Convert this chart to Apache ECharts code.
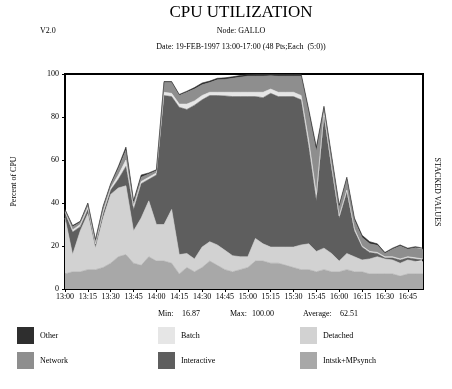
<!DOCTYPE html>
<html>
<head>
<meta charset="utf-8">
<script src="https://cdn.jsdelivr.net/npm/echarts@6/dist/echarts.min.js"></script>
<style>
html,body{margin:0;padding:0;background:#fff;}
#c{width:452px;height:389px;}
</style>
</head>
<body>
<div id="c"></div>
<script>
// ---- data ----
var times = ['13:00','13:05','13:10','13:15','13:20','13:25','13:30','13:35','13:40','13:45','13:50','13:55',
             '14:00','14:05','14:10','14:15','14:20','14:25','14:30','14:35','14:40','14:45','14:50','14:55',
             '15:00','15:05','15:10','15:15','15:20','15:25','15:30','15:35','15:40','15:45','15:50','15:55',
             '16:00','16:05','16:10','16:15','16:20','16:25','16:30','16:35','16:40','16:45','16:50','16:55'];
var intstk = [7,8,8,9,9,10,12,15,16,12,11,15,13,13,12,7,10,8,10,13,11,9,8,9,
              10,13,13,12,12,11,10,9,9,8,9,8,8,9,8,8,7,7,7,7,6,7,7,7];
var detached = [26,8,19,26,10,23,32,32,32,15,22,26,17,17,25,9,6.5,6,9.5,9,9.5,9,7.5,6,
                5,10.5,8,7.5,7.5,8.5,9.5,11.5,12,9.5,10,8.5,5,7.5,7,5.5,7,8,7,6.5,6,6.5,5.8,5.8];
var interactive = [2.5,10.5,2,2,1.5,2,2,4,9,10,16,10,23,60,52.5,68.5,67,71.5,68.5,68,69.5,71.8,74,74.5,
                   74.5,66,68,71.5,70,70,70,67.5,45,23.5,61,39.5,20,28.5,12,6,3,1.5,0.5,1,1.5,1,1.2,0.7];
var batch = [0.5,1,1,1,0.5,1,1,2,3,1.5,1,1,1,1.5,1.5,1.5,2.5,2,2,1.5,1.5,1.7,2,2,
             2,2,2.5,2,2,2,2,2,3,3,2,1,1,1,1,0.5,0.5,0.5,0.5,0.5,0.5,0.5,0.5,0.5];
var network = [0.8,1.5,1,1.5,1.5,2,1.5,3,4.5,1.5,2,1.5,1,4.5,5,4,5.5,5.5,5,4.5,5.8,6,6.5,7,
               7.5,7.5,7.5,6.2,7.5,7.5,7.5,9,13,20,2,4,4,5,4,4,3.5,3.3,1.5,3.5,6,3.5,4.7,4.5];
var other = [0.2,0.5,0.5,0.5,0.5,0.5,0.5,1,1.5,1,1,0.5,0.5,0.5,0.5,0.5,0.5,0.7,0.8,0.7,0.7,0.7,0.7,0.8,
             0.8,1,1,0.8,1,1,1,1,1.5,2,1,1,1,1,1,1,1,0.7,0.5,0.5,0.5,0.5,0.5,0.5];
var yTicks = [0,20,40,60,80,100];
var statLabels = ['Min:', '16.87', 'Max:', '100.00', 'Average:', '62.51'];

// ---- chart ----
var F = 'Liberation Serif, Times New Roman, serif';
var chart = echarts.init(document.getElementById('c'), null, {renderer:'canvas'});

var seriesDefs = [
  {name:'Intstk+MPsynch', data:intstk, color:'#a8a8a8'},
  {name:'Detached', data:detached, color:'#d2d2d2'},
  {name:'Interactive', data:interactive, color:'#5e5e5e'},
  {name:'Batch', data:batch, color:'#e6e6e6'},
  {name:'Network', data:network, color:'#8e8e8e'},
  {name:'Other', data:other, color:'#2e2e2e'}
];
var series = seriesDefs.map(function(s){
  return {
    name:s.name, type:'line', stack:'cpu', data:s.data,
    symbol:'none', showSymbol:false, smooth:false,
    lineStyle:{width:0.6, color:s.color},
    areaStyle:{color:s.color, opacity:1},
    itemStyle:{color:s.color},
    emphasis:{disabled:true}, silent:true, animation:false
  };
});

var legendPos = [
  {name:'Other', left:17, top:327},
  {name:'Batch', left:158, top:327},
  {name:'Detached', left:300, top:327},
  {name:'Network', left:17, top:352},
  {name:'Interactive', left:158, top:352},
  {name:'Intstk+MPsynch', left:300, top:352}
];
var legends = legendPos.map(function(l){
  return {data:[l.name], left:l.left, top:l.top, icon:'rect', itemWidth:17, itemHeight:17,
          itemGap:4, selectedMode:false, padding:0,
          textStyle:{fontFamily:F, fontSize:8, color:'#000', padding:[0,0,0,1]}};
});

var statX = [158, 182, 230, 252, 303, 340];

var graphics = [
  {type:'text', left:'center', style:{text:'CPU UTILIZATION', x:241, y:4, textAlign:'center', textVerticalAlign:'top', font:'17px ' + F, fill:'#000'}},
  {type:'text', style:{text:'V2.0', x:40, y:31, textAlign:'left', textVerticalAlign:'middle', font:'8px ' + F, fill:'#000'}},
  {type:'text', style:{text:'Node: GALLO', x:241, y:31, textAlign:'center', textVerticalAlign:'middle', font:'8px ' + F, fill:'#000'}},
  {type:'text', style:{text:'Date: 19-FEB-1997 13:00-17:00 (48 Pts;Each  (5:0))', x:241, y:47, textAlign:'center', textVerticalAlign:'middle', font:'8px ' + F, fill:'#000'}},
  {type:'text', x:437, y:192, rotation:-Math.PI/2, style:{text:'STACKED VALUES', x:0, y:0, textAlign:'center', textVerticalAlign:'middle', font:'8px ' + F, fill:'#000'}}
];
statLabels.forEach(function(t, i){
  graphics.push({type:'text', style:{text:t, x:statX[i], y:314, textAlign:'left', textVerticalAlign:'middle', font:'8px ' + F, fill:'#000'}});
});
// remove 'left' from the title graphic (positioned via x)
delete graphics[0].left;

chart.setOption({
  animation:false,
  backgroundColor:'#fff',
  grid:{left:65, right:29, top:74, bottom:100, show:true, borderColor:'#000', borderWidth:2, backgroundColor:'transparent'},
  legend:legends,
  xAxis:{
    type:'category', boundaryGap:false, data:times,
    axisLine:{show:true, lineStyle:{color:'#000', width:2}},
    axisTick:{show:true, interval:2, length:3, lineStyle:{color:'#000'}},
    axisLabel:{interval:2, fontFamily:F, fontSize:8, color:'#000', margin:4},
    splitLine:{show:false}
  },
  yAxis:{
    type:'value', min:0, max:100, interval:20,
    name:'Percent of CPU', nameLocation:'middle', nameRotate:90, nameGap:47,
    nameTextStyle:{fontFamily:F, fontSize:8, color:'#000'},
    axisLine:{show:true, lineStyle:{color:'#000', width:2}},
    axisTick:{show:true, length:3, lineStyle:{color:'#000'}},
    axisLabel:{fontFamily:F, fontSize:8, color:'#000', margin:6,
      formatter:function(v){ return yTicks.indexOf(v) >= 0 ? String(v) : ''; }},
    splitLine:{show:false}
  },
  series:series,
  graphic:graphics
});
</script>
</body>
</html>
